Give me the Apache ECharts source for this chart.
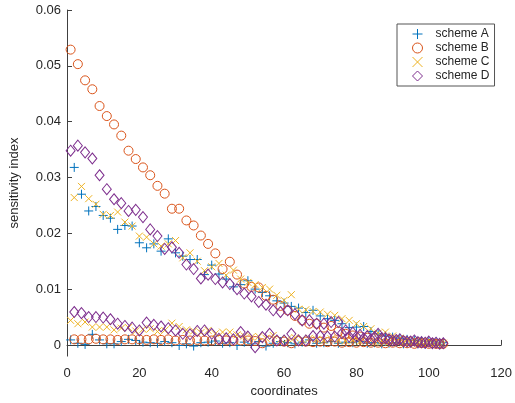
<!DOCTYPE html>
<html>
<head>
<meta charset="utf-8">
<script src="https://cdn.jsdelivr.net/npm/echarts@6/dist/echarts.min.js"></script>
<style>
  html, body { margin: 0; padding: 0; background: #fff; }
  #chart { width: 515px; height: 403px; }
</style>
</head>
<body>
<div id="chart"></div>
<script>
// 数据：每个方案两条分支，高分支与低分支交错在奇偶坐标上
const oddX = [];
const evenX = [];
for (let i = 0; i < 52; i++) { oddX.push(2 * i + 1); evenX.push(2 * i + 2); }

const yTicks = [0, 0.01, 0.02, 0.03, 0.04, 0.05, 0.06];
const xTicks = [0, 20, 40, 60, 80, 100, 120];

// scheme A：高分支在偶数坐标，低分支在奇数坐标
const schemeAHigh = [0.0318, 0.0270, 0.0240, 0.0248, 0.0232, 0.0227, 0.0207, 0.0214, 0.0213, 0.0183,
  0.0174, 0.0181, 0.0168, 0.0190, 0.0165, 0.0159, 0.0153, 0.0153, 0.0126, 0.0143,
  0.0127, 0.0118, 0.0104, 0.0108, 0.0115, 0.0100, 0.0094, 0.0088, 0.0079, 0.0075,
  0.0069, 0.0066, 0.0058, 0.0062, 0.0052, 0.0047, 0.0044, 0.0038, 0.0031, 0.0032,
  0.0033, 0.0024, 0.0020, 0.0016, 0.0014, 0.0012, 0.0010, 0.0008, 0.0007, 0.0006,
  0.0005, 0.0004];
const schemeALow = [0.0009, 0.0003, 0.0001, 0.0019, 0.0009, 0.0002, 0.0002, 0.0006, 0.0010, 0.0008,
  0.0005, 0.0004, 0.0003, 0.0006, 0.0004, -0.0001, 0.0002, -0.0002, 0.0004, 0.0005,
  0.0007, 0.0003, 0.0004, -0.0001, 0.0005, 0.0002, 0.0006, -0.0002, 0.0003, 0.0006,
  0.0004, 0.0002, 0.0005, 0.0009, 0.0003, 0.0004, 0.0006, 0.0003, 0.0005, 0.0004,
  0.0006, 0.0003, 0.0004, 0.0002, 0.0003, 0.0004, 0.0002, 0.0003, 0.0002, 0.0001,
  0.0002, 0.0001];

// scheme B：高分支在奇数坐标，低分支在偶数坐标
const schemeBHigh = [0.0529, 0.0503, 0.0474, 0.0458, 0.0428, 0.0410, 0.0395, 0.0375, 0.0348, 0.0333,
  0.0318, 0.0304, 0.0285, 0.0271, 0.0244, 0.0244, 0.0223, 0.0214, 0.0196, 0.0181,
  0.0164, 0.0136, 0.0149, 0.0126, 0.0110, 0.0104, 0.0103, 0.0088, 0.0081, 0.0070,
  0.0062, 0.0052, 0.0044, 0.0038, 0.0038, 0.0031, 0.0034, 0.0024, 0.0020, 0.0017,
  0.0015, 0.0013, 0.0012, 0.0010, 0.0009, 0.0008, 0.0007, 0.0006, 0.0005, 0.0004,
  0.0003, 0.0002];
const schemeBLow = [0.0010, 0.0010, 0.0010, 0.0011, 0.0010, 0.0010, 0.0009, 0.0010, 0.0010, 0.0010,
  0.0009, 0.0010, 0.0009, 0.0010, 0.0008, 0.0009, 0.0008, 0.0009, 0.0008, 0.0008,
  0.0009, 0.0008, 0.0007, 0.0008, 0.0008, 0.0007, 0.0003, 0.0008, 0.0007, 0.0006,
  0.0003, 0.0007, 0.0006, 0.0005, 0.0006, 0.0005, 0.0006, 0.0004, 0.0005, 0.0004,
  0.0005, 0.0004, 0.0004, 0.0003, 0.0004, 0.0003, 0.0003, 0.0002, 0.0003, 0.0002,
  0.0002, 0.0002];

// scheme C：高分支在偶数坐标，低分支在奇数坐标
const schemeCHigh = [0.0264, 0.0284, 0.0262, 0.0252, 0.0234, 0.0232, 0.0238, 0.0220, 0.0213, 0.0195,
  0.0193, 0.0181, 0.0177, 0.0181, 0.0187, 0.0156, 0.0165, 0.0150, 0.0133, 0.0140,
  0.0146, 0.0125, 0.0134, 0.0118, 0.0112, 0.0108, 0.0103, 0.0100, 0.0089, 0.0080,
  0.0090, 0.0064, 0.0063, 0.0060, 0.0059, 0.0055, 0.0053, 0.0047, 0.0044, 0.0038,
  0.0033, 0.0029, 0.0021, 0.0023, 0.0016, 0.0012, 0.0010, 0.0008, 0.0006, 0.0005,
  0.0004, 0.0003];
const schemeCLow = [0.0044, 0.0038, 0.0041, 0.0032, 0.0032, 0.0032, 0.0027, 0.0030, 0.0031, 0.0025,
  0.0028, 0.0029, 0.0024, 0.0026, 0.0039, 0.0033, 0.0027, 0.0025, 0.0022, 0.0026,
  0.0020, 0.0023, 0.0023, 0.0018, 0.0016, 0.0014, 0.0015, 0.0012, 0.0017, 0.0010,
  0.0011, 0.0013, 0.0009, 0.0012, 0.0010, 0.0008, 0.0011, 0.0009, 0.0007, 0.0009,
  0.0006, 0.0008, 0.0005, 0.0007, 0.0005, 0.0006, 0.0004, 0.0005, 0.0003, 0.0004,
  0.0003, 0.0002];

// scheme D：高分支在奇数坐标，低分支在偶数坐标
const schemeDHigh = [0.0348, 0.0357, 0.0345, 0.0334, 0.0304, 0.0279, 0.0261, 0.0254, 0.0240, 0.0242,
  0.0229, 0.0207, 0.0195, 0.0172, 0.0175, 0.0165, 0.0144, 0.0136, 0.0119, 0.0126,
  0.0118, 0.0112, 0.0109, 0.0100, 0.0092, 0.0087, 0.0077, 0.0072, 0.0062, 0.0059,
  0.0062, 0.0055, 0.0044, 0.0044, 0.0038, 0.0038, 0.0041, 0.0041, 0.0026, 0.0022,
  0.0018, 0.0016, 0.0014, 0.0012, 0.0010, 0.0009, 0.0007, 0.0006, 0.0005, 0.0004,
  0.0003, 0.0002];
const schemeDLow = [0.0059, 0.0057, 0.0050, 0.0050, 0.0049, 0.0046, 0.0038, 0.0034, 0.0031, 0.0026,
  0.0040, 0.0036, 0.0033, 0.0030, 0.0026, 0.0020, 0.0019, 0.0025, 0.0026, 0.0020,
  0.0011, 0.0012, 0.0010, 0.0023, 0.0015, -0.0004, 0.0014, 0.0020, 0.0008, 0.0008,
  0.0020, 0.0008, 0.0008, 0.0016, 0.0016, 0.0015, 0.0015, 0.0021, 0.0015, 0.0015,
  0.0012, 0.0010, 0.0020, 0.0012, 0.0008, 0.0010, 0.0006, 0.0008, 0.0005, 0.0006,
  0.0004, 0.0003];

// 把两条分支合成一个散点序列
function pairs(xs1, ys1, xs2, ys2) {
    const out = [];
    xs1.forEach((x, i) => out.push([x, ys1[i]]));
    xs2.forEach((x, i) => out.push([x, ys2[i]]));
    return out;
}

const plusPath = 'path://M5,0 L5,10 M0,5 L10,5';
const crossPath = 'path://M0,0 L10,10 M10,0 L0,10';
const axisColor = '#404040';
const textColor = '#262626';
const fontFamily = 'Liberation Sans, Arial';

function markerStyle(color) {
    return { color: 'rgba(0,0,0,0)', borderColor: color, borderWidth: 1, opacity: 1 };
}

const chart = echarts.init(document.getElementById('chart'));

chart.setOption({
    animation: false,
    grid: { left: 67, right: 7, top: 10, bottom: 45 },
    legend: {
        orient: 'vertical',
        left: 397,
        top: 24,
        padding: [3, 5, 3, 15],
        itemGap: 0,
        itemWidth: 10,
        itemHeight: 10,
        borderColor: '#555',
        borderWidth: 1,
        backgroundColor: '#fff',
        itemStyle: { borderWidth: 1 },
        textStyle: { fontFamily: fontFamily, fontSize: 12, color: textColor, padding: [0, 0, 0, 8], lineHeight: 14 },
        data: ['scheme A', 'scheme B', 'scheme C', 'scheme D']
    },
    xAxis: {
        type: 'value',
        min: 0,
        max: 120,
        interval: 20,
        name: 'coordinates',
        nameLocation: 'middle',
        nameGap: 25,
        nameTextStyle: { fontFamily: fontFamily, fontSize: 13, color: textColor },
        axisLine: { lineStyle: { color: axisColor, width: 1 } },
        axisTick: { inside: true, length: 5, lineStyle: { color: axisColor } },
        axisLabel: { fontFamily: fontFamily, fontSize: 13, color: textColor, margin: 11 },
        splitLine: { show: false }
    },
    yAxis: {
        type: 'value',
        min: -0.002,
        max: 0.06,
        interval: 0.002,
        name: 'sensitivity index',
        nameLocation: 'middle',
        nameGap: 46,
        nameTextStyle: { fontFamily: fontFamily, fontSize: 13, color: textColor },
        axisLine: { show: true, lineStyle: { color: axisColor, width: 1 } },
        axisTick: { show: true, inside: true, length: 5, customValues: yTicks, lineStyle: { color: axisColor } },
        axisLabel: {
            fontFamily: fontFamily, fontSize: 13, color: textColor, margin: 6,
            customValues: yTicks,
            formatter: v => (Math.abs(v) < 1e-9 ? '0' : v.toFixed(2))
        },
        splitLine: { show: false }
    },
    series: [
        {
            name: 'scheme A', type: 'scatter', symbol: plusPath, symbolSize: 9,
            itemStyle: markerStyle('#0072BD'),
            data: pairs(evenX, schemeAHigh, oddX, schemeALow)
        },
        {
            name: 'scheme B', type: 'scatter', symbol: 'circle', symbolSize: 9,
            itemStyle: markerStyle('#D95319'),
            data: pairs(oddX, schemeBHigh, evenX, schemeBLow)
        },
        {
            name: 'scheme C', type: 'scatter', symbol: crossPath, symbolSize: 7,
            itemStyle: markerStyle('#EDB120'),
            data: pairs(evenX, schemeCHigh, oddX, schemeCLow)
        },
        {
            name: 'scheme D', type: 'scatter', symbol: 'diamond', symbolSize: [9, 11],
            itemStyle: markerStyle('#7E2F8E'),
            data: pairs(oddX, schemeDHigh, evenX, schemeDLow)
        }
    ]
});
</script>
</body>
</html>
